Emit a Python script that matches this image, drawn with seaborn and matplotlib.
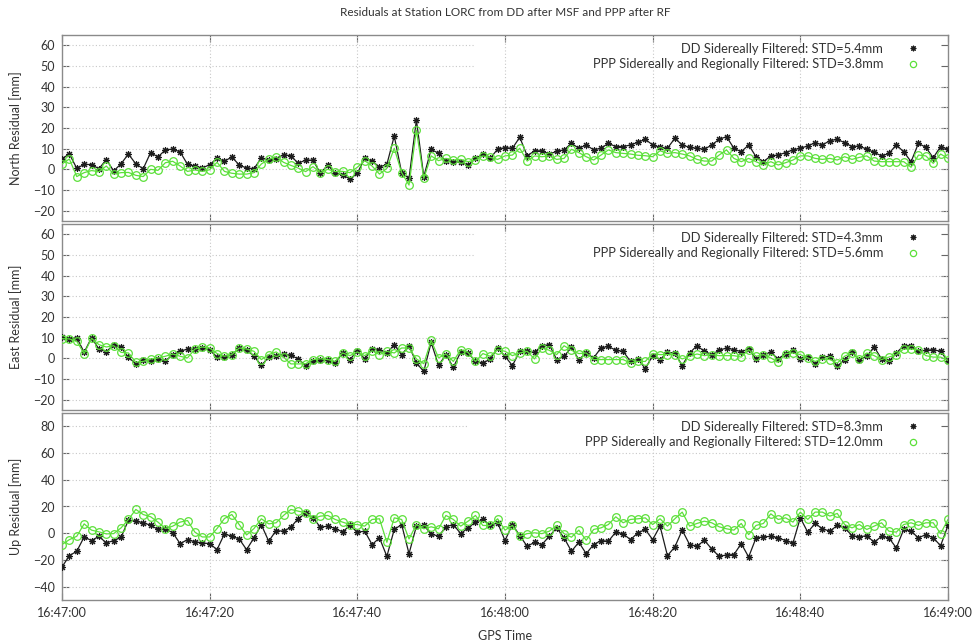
import numpy as np
import pandas as pd
import matplotlib
matplotlib.use("Agg")
import matplotlib.pyplot as plt
import seaborn as sns
from matplotlib.lines import Line2D

# ---------------- data (seconds after 16:47:00, 1 Hz) ----------------
seconds = list(range(121))
tick_seconds = [0, 20, 40, 60, 80, 100, 120]
tick_labels = ["16:47:00", "16:47:20", "16:47:40", "16:48:00", "16:48:20", "16:48:40", "16:49:00"]

north_dd = [5.2, 7.4, 0.5, 2.4, 2.3, 0.3, 4.7, -0.8, 2.7, 7.4, 2.6, 0.3, 8.1, 6.0, 9.4, 9.8, 8.4, 2.4, 1.5, 0.6,
            2.3, 5.3, 3.9, 6.0, 2.1, 0.6, 0.3, 5.5, 4.5, 5.2, 7.1, 6.5, 2.9, 4.5, 4.4, -1.9, 2.1, -1.9, -2.7, -4.7,
            -1.9, 5.3, 4.0, 1.1, 2.4, 16.1, -1.6, -4.4, 23.9, -3.5, 9.7, 7.7, 4.0, 3.7, 3.5, 2.1, 5.3, 7.3, 5.3, 9.8,
            10.5, 10.2, 15.5, 6.6, 8.9, 9.0, 7.4, 8.7, 9.4, 12.6, 10.2, 11.8, 9.4, 10.2, 12.6, 11.0, 11.0, 11.8, 13.1, 14.5,
            11.8, 10.6, 10.2, 15.0, 11.8, 10.6, 10.2, 9.7, 11.8, 14.5, 15.8, 10.2, 8.5, 11.8, 6.1, 3.7, 6.5, 6.9, 8.1, 9.4,
            10.2, 11.3, 12.9, 11.8, 13.9, 14.5, 12.9, 11.0, 11.3, 9.7, 8.2, 6.5, 7.7, 11.8, 8.5, 3.7, 12.6, 10.6, 5.6, 11.0,
            9.7]
north_ppp = [2.6, 5.0, -3.5, -1.6, -0.6, -1.1, 1.6, -2.3, -1.6, -1.5, -2.9, -3.5, 0.0, -0.5, 3.2, 3.9, 1.6, -1.0, -0.3, -1.0,
             -0.2, 3.4, -1.0, -1.9, -2.3, -2.3, -1.6, 2.6, 4.8, 6.1, 3.4, 1.9, 0.6, -1.1, 1.3, -1.6, 0.0, -1.1, -1.0, -1.6,
             1.0, 4.2, 1.6, -2.3, 0.5, 10.2, -1.6, -7.6, 19.0, -4.4, 6.5, 4.2, 5.3, 4.5, 4.8, 3.7, 4.5, 6.5, 5.8, 4.8,
             6.5, 6.9, 10.2, 4.0, 6.5, 6.1, 6.5, 4.8, 5.3, 9.7, 8.1, 6.1, 4.5, 6.9, 9.4, 8.1, 7.7, 7.4, 6.8, 6.6,
             6.1, 9.0, 7.7, 8.1, 7.4, 6.5, 4.8, 4.0, 4.0, 6.9, 9.4, 5.3, 3.7, 5.3, 3.7, 2.1, 3.7, 2.1, 3.2, 4.5,
             6.5, 6.5, 5.3, 4.8, 5.3, 4.5, 6.1, 4.8, 5.8, 6.5, 4.0, 3.7, 3.7, 3.7, 3.7, 1.0, 6.9, 6.5, 2.9, 7.4,
             5.3]

east_dd = [10.3, 9.5, 10.0, 2.9, 10.0, 4.5, 3.2, 6.6, 5.3, 0.5, -2.7, -0.8, -1.5, -0.3, -1.3, 1.8, 3.4, 4.5, 4.5, 4.8,
           4.2, 0.5, 0.6, 1.8, 4.8, 4.2, 1.0, -3.4, 0.5, 1.3, 2.1, 1.5, -0.3, -3.5, -1.1, -0.8, -0.8, -2.3, 2.6, -0.6,
           3.7, -0.3, 4.7, 4.2, 2.6, 6.6, 1.8, 6.1, -2.3, -6.3, 7.7, -3.4, 1.8, -4.4, 3.1, 2.6, -1.5, -2.3, -0.3, 5.0,
           1.0, -3.5, 3.4, 3.4, 2.9, 6.1, 6.6, -0.6, 1.0, 5.3, -0.6, 2.6, 0.2, 5.0, 5.8, 3.9, 3.4, -1.5, -0.3, -5.0,
           1.3, -0.6, 2.9, 2.6, -3.5, 2.6, 6.1, 3.4, 1.8, 3.9, 5.0, 4.2, 3.2, 4.5, -0.3, 1.8, 2.9, -0.3, 2.3, 3.9,
           -0.3, 0.6, -2.6, 0.6, 1.0, -3.9, -0.6, 2.9, -0.6, 1.0, 5.5, -0.3, -1.5, 2.6, 6.1, 6.1, 3.4, 3.9, 4.2, 3.4,
           -1.5]
east_ppp = [9.5, 9.4, 8.2, 2.3, 9.7, 6.6, 5.5, 6.1, 2.9, 2.6, -1.9, -1.5, -0.3, 0.2, 1.0, 2.1, 1.0, 0.2, 4.5, 5.5,
            5.0, 2.3, 1.0, 1.8, 5.0, 4.5, 3.4, -0.6, 1.8, 3.1, 0.6, -2.7, -2.7, -2.6, -0.6, -0.2, -0.6, -1.5, 2.6, 1.3,
            3.1, 1.3, 3.7, 1.8, 3.4, 2.6, 5.0, 5.0, -0.3, -2.6, 8.7, 0.2, 2.1, -1.5, 4.2, 2.9, -1.5, 2.3, 1.0, 4.2,
            3.4, 1.3, 2.6, 3.4, -0.3, 5.0, 3.9, 1.8, 6.1, 3.9, 2.3, 2.6, -0.6, -0.6, -0.6, -0.6, -0.6, -2.3, -1.5, -1.5,
            2.3, 1.8, 1.8, 1.8, -0.3, 1.0, 2.1, 1.3, 1.8, 1.3, 1.3, 1.3, 0.6, 4.2, 1.0, 1.8, 0.2, -1.9, 2.3, 2.6,
            1.8, 0.2, -1.5, -0.3, -0.6, -2.3, 1.0, 2.6, -0.3, 2.6, 1.3, -0.6, 0.6, 1.8, 4.5, 4.5, 4.2, 1.3, 0.6, 0.6,
            -1.0]

up_dd = [-25.3, -16.8, -13.5, -2.8, -5.5, -2.3, -7.3, -5.5, -3.0, 9.8, 9.0, 7.8, 6.0, 2.8, 3.3, 0.3, -7.8, -4.8, -6.5, -7.3,
         -7.8, -12.3, -0.5, -2.3, -4.3, -12.3, -3.5, 6.3, -6.0, 2.0, 1.5, 4.5, 11.0, 14.8, 11.5, 4.5, 5.3, 3.5, 1.0, 5.8,
         0.8, 1.5, -8.5, -3.5, -17.3, 2.8, 6.5, -15.3, 5.3, 5.8, -0.5, -2.3, 4.8, 6.5, -0.3, 4.0, 8.3, 10.3, 5.8, 7.8,
         -5.5, 6.5, -1.8, -9.8, -6.8, -8.5, -2.3, 4.0, -3.5, -13.5, -6.8, -15.3, -8.5, -5.5, -6.0, 0.8, -0.5, -4.8, 0.3, 2.8,
         -4.8, 5.3, -16.8, -10.3, 2.3, -8.5, -9.8, -5.3, -11.8, -17.3, -16.3, -16.0, -7.8, -17.8, -3.5, -2.8, -2.3, -3.5, -5.5, -7.3,
         11.5, 0.8, 7.3, 3.3, 1.5, 5.8, 4.0, -1.8, -2.8, -1.8, -6.8, -2.3, -3.5, -11.0, 2.8, 1.5, -3.5, -1.0, -3.5, -9.3,
         5.8]
up_ppp = [-8.5, -4.8, -2.3, 7.0, 2.3, 1.0, -0.5, -0.3, 4.0, 10.3, 17.8, 14.0, 12.3, 8.3, 3.5, 5.3, 8.3, 9.5, 0.8, -2.8,
          -2.8, 3.5, 11.0, 14.0, 6.5, -1.3, 3.5, 10.8, 7.0, 7.8, 13.3, 17.8, 16.5, 15.3, 10.8, 12.8, 13.3, 10.3, 8.3, 6.5,
          6.5, 5.3, 10.3, 10.8, -6.8, 11.5, 10.3, -4.3, 6.5, 3.3, 4.8, 3.3, 13.3, 10.3, 5.3, 9.0, 13.3, 5.8, 5.8, 10.8,
          2.3, 5.8, -2.3, -0.3, 0.3, -0.3, 1.5, 5.8, -0.3, -3.0, 2.3, -5.3, 2.8, 4.0, 6.5, 12.3, 7.8, 10.3, 10.8, 11.5,
          6.5, 10.8, 5.3, 10.8, 15.8, 5.3, 7.3, 9.0, 7.8, 4.8, 3.3, 2.3, 7.3, -1.0, 5.8, 7.3, 14.5, 10.3, 11.5, 8.3,
          15.8, 10.3, 15.8, 15.8, 12.8, 14.8, 6.5, 4.0, 6.5, 2.8, 5.3, 7.8, 1.5, 0.8, 6.5, 7.8, 5.8, 7.8, 7.8, -0.3,
          10.3]

panel_names = ["North Residual [mm]", "East Residual [mm]", "Up Residual [mm]"]
dd_labels = ["DD Sidereally Filtered: STD=5.4mm", "DD Sidereally Filtered: STD=4.3mm",
             "DD Sidereally Filtered: STD=8.3mm"]
ppp_labels = ["PPP Sidereally and Regionally Filtered: STD=3.8mm",
              "PPP Sidereally and Regionally Filtered: STD=5.6mm",
              "PPP Sidereally and Regionally Filtered: STD=12.0mm"]
title = "Residuals at Station LORC from DD after MSF and PPP after RF"

# ---------------- style ----------------
sns.set_theme(style="white")
plt.rcParams["font.family"] = ["Lato", "DejaVu Sans"]

DD_COLOR = "#1c1c1c"
PPP_COLOR = "#5ce03a"
GRID_COLOR = "#c8c8c8"
SPINE_COLOR = "#8a8a8a"
TEXT_COLOR = "#333333"

fig = plt.figure(figsize=(9.77, 6.42), dpi=100)
W, H = 977.0, 642.0
left, right = 62 / W, 948 / W
panel_px = [(35, 221), (224, 410), (413, 600)]
ylims = [(-25, 65), (-25, 65), (-50, 90)]
yticks = [list(range(-20, 61, 10)), list(range(-20, 61, 10)), list(range(-40, 81, 20))]
legend_cut = [0.466, 0.466, 0.457]  # horizontal grid hidden behind the key (gnuplot style)
top_grid = [[60, 50], [60, 50], [80]]

DD_MARKER = (8, 2, 0)

axes = []
for i in range(3):
    top_px, bot_px = panel_px[i]
    ax = fig.add_axes([left, 1 - bot_px / H, right - left, (bot_px - top_px) / H])
    axes.append(ax)
    df = pd.DataFrame({"t": seconds,
                       "dd": [north_dd, east_dd, up_dd][i],
                       "ppp": [north_ppp, east_ppp, up_ppp][i]})

    sns.lineplot(data=df, x="t", y="dd", ax=ax, color=DD_COLOR, lw=0.9,
                 marker=DD_MARKER, markersize=5, markeredgewidth=0.8,
                 markeredgecolor=DD_COLOR, zorder=3, label=None, legend=False)
    sns.lineplot(data=df, x="t", y="ppp", ax=ax, color=PPP_COLOR, lw=0.9,
                 marker="o", markersize=5.5, markerfacecolor="none",
                 markeredgecolor=PPP_COLOR, markeredgewidth=0.9, zorder=4,
                 label=None, legend=False)

    ax.set_xlim(0, 120)
    ax.set_ylim(*ylims[i])
    ax.set_yticks(yticks[i])
    ax.set_xticks(tick_seconds)
    if i == 2:
        ax.set_xticklabels(tick_labels)
        ax.set_xlabel("GPS Time", fontsize=9, color=TEXT_COLOR, labelpad=8)
    else:
        ax.set_xticklabels([])
        ax.set_xlabel("")
    ax.set_ylabel(panel_names[i], fontsize=9, color=TEXT_COLOR, labelpad=8)

    # grid: vertical full, horizontal cut behind key
    for xt in tick_seconds[1:-1]:
        ax.axvline(xt, color=GRID_COLOR, lw=0.8, ls=(0, (1, 2)), zorder=1)
    for yt in yticks[i]:
        xmax = legend_cut[i] if yt in top_grid[i] else 1.0
        ax.axhline(yt, xmin=0, xmax=xmax, color=GRID_COLOR, lw=0.8, ls=(0, (1, 2)), zorder=1)

    for sp in ax.spines.values():
        sp.set_color(SPINE_COLOR)
        sp.set_linewidth(1.0)
        sp.set_visible(True)
    ax.tick_params(axis="both", which="major", direction="in", length=5, width=0.8,
                   color="#666666", labelsize=9, labelcolor=TEXT_COLOR,
                   left=True, right=True, top=True, bottom=True, pad=5)

    handles = [
        Line2D([], [], ls="none", marker=DD_MARKER, markersize=4, markeredgewidth=0.8,
               color=DD_COLOR),
        Line2D([], [], ls="none", marker="o", markersize=4.5, markerfacecolor="none",
               markeredgecolor=PPP_COLOR, markeredgewidth=0.9),
    ]
    leg = ax.legend(handles, [dd_labels[i], ppp_labels[i]], loc="upper right",
                    bbox_to_anchor=(1 - 24 / 886, 1.0 - 3 / 186), frameon=False, markerfirst=False,
                    fontsize=9.3, handlelength=1.0, handletextpad=1.8,
                    labelspacing=0.3, borderpad=0.35, borderaxespad=0.0)
    for txt in leg.get_texts():
        txt.set_color(TEXT_COLOR)

fig.text((62 + 948) / 2 / W, 1 - 13 / H, title, ha="center", va="center",
         fontsize=8.5, color=TEXT_COLOR)

fig.savefig("out.png", dpi=100)
